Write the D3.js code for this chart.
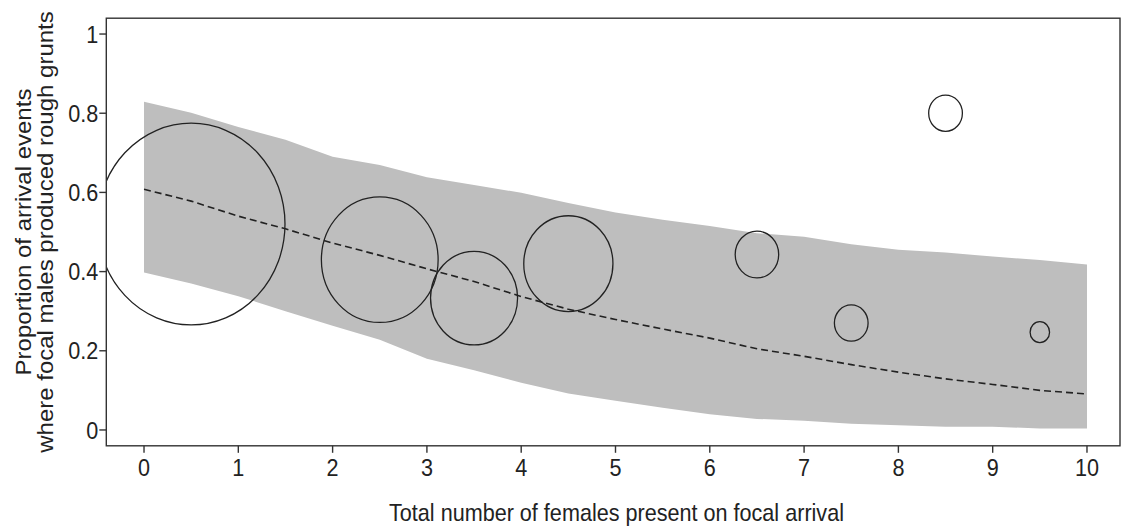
<!DOCTYPE html>
<html>
<head>
<meta charset="utf-8">
<script src="https://cdn.jsdelivr.net/npm/d3@7"></script>
<style>
  html, body { margin: 0; padding: 0; background: #fff; }
  svg { display: block; }
  text { font-family: "Liberation Sans", Arial, sans-serif; fill: #222; }
</style>
</head>
<body>
<svg id="chart" width="1124" height="527"></svg>
<script>
// Observed proportions, by number of females present (bubble area ~ number of events)
const obsX     = [0.5, 2.5, 3.5, 4.5, 6.5, 7.5, 8.5, 9.5];
const obsProp  = [0.52, 0.43, 0.333, 0.42, 0.443, 0.27, 0.80, 0.247];
const obsCount = [93, 36, 20, 21, 5, 3, 3, 1];

// Model prediction with confidence band
const fitX     = [0, 0.5, 1, 1.5, 2, 2.5, 3, 3.5, 4, 4.5, 5, 5.5, 6, 6.5, 7, 7.5, 8, 8.5, 9, 9.5, 10];
const fitMean  = [0.608, 0.578, 0.540, 0.508, 0.472, 0.441, 0.407, 0.375, 0.337, 0.305, 0.279,
                  0.255, 0.232, 0.205, 0.186, 0.165, 0.146, 0.129, 0.115, 0.100, 0.091];
const fitUpper = [0.829, 0.801, 0.765, 0.733, 0.690, 0.669, 0.638, 0.619, 0.599, 0.573, 0.549,
                  0.531, 0.515, 0.497, 0.488, 0.469, 0.455, 0.448, 0.438, 0.429, 0.418];
const fitLower = [0.398, 0.370, 0.338, 0.300, 0.263, 0.228, 0.180, 0.151, 0.119, 0.092, 0.074,
                  0.056, 0.040, 0.028, 0.023, 0.016, 0.012, 0.008, 0.008, 0.004, 0.004];

const xTicks = [0, 1, 2, 3, 4, 5, 6, 7, 8, 9, 10];
const yTicks = [0, 0.2, 0.4, 0.6, 0.8, 1];
const yTickLabels = ["0", "0.2", "0.4", "0.6", "0.8", "1"];

const xTitle = "Total number of females present on focal arrival";
const yTitle = ["Proportion of arrival events", "where focal males produced rough grunts"];

const svg = d3.select("#chart");
const W = 1124, H = 527;
const squeeze = 0.9;      // narrow rendering of the text
const aspect = 1.075;     // vertical / horizontal radius of the bubbles

const x = d3.scaleLinear().domain([-0.4, 10.4]).range([106.3, 1124.7]);
const y = d3.scaleLinear().domain([-0.04, 1.04]).range([445.8, 18.2]);
const r = d3.scaleSqrt().domain([0, 93]).range([0, 0.995]);

const pLeft = x(-0.4), pRight = W - 4, pTop = y(1.04), pBottom = y(-0.04);

svg.append("defs").append("clipPath").attr("id", "plotClip")
  .append("rect").attr("x", pLeft).attr("y", pTop)
  .attr("width", pRight - pLeft).attr("height", pBottom - pTop);

const plot = svg.append("g").attr("clip-path", "url(#plotClip)");

// Confidence band
const band = fitX.map((v, i) => ({ x: v, lo: fitLower[i], hi: fitUpper[i] }));
plot.append("path")
  .datum(band)
  .attr("d", d3.area().x(d => x(d.x)).y0(d => y(d.lo)).y1(d => y(d.hi)))
  .attr("fill", "#bebebe");

// Fitted mean
const mean = fitX.map((v, i) => ({ x: v, y: fitMean[i] }));
plot.append("path")
  .datum(mean)
  .attr("d", d3.line().x(d => x(d.x)).y(d => y(d.y)))
  .attr("fill", "none")
  .attr("stroke", "#222")
  .attr("stroke-width", 1.6)
  .attr("stroke-dasharray", "7,4");

// Observed bubbles
const obs = obsX.map((v, i) => ({ x: v, p: obsProp[i], n: obsCount[i] }));
plot.selectAll("ellipse.obs")
  .data(obs)
  .enter().append("ellipse")
  .attr("class", "obs")
  .attr("cx", d => x(d.x))
  .attr("cy", d => y(d.p))
  .attr("rx", d => x(r(d.n)) - x(0))
  .attr("ry", d => (x(r(d.n)) - x(0)) * aspect)
  .attr("fill", "none")
  .attr("stroke", "#222")
  .attr("stroke-width", 1.3);

// Frame
svg.append("rect")
  .attr("x", pLeft).attr("y", pTop)
  .attr("width", pRight - pLeft).attr("height", pBottom - pTop)
  .attr("fill", "none").attr("stroke", "#333").attr("stroke-width", 1.4);

// X axis ticks and labels
const xg = svg.append("g");
xg.selectAll("line").data(xTicks).enter().append("line")
  .attr("x1", d => x(d)).attr("x2", d => x(d))
  .attr("y1", pBottom).attr("y2", pBottom + 7)
  .attr("stroke", "#333").attr("stroke-width", 1.4);
xg.selectAll("text").data(xTicks).enter().append("text")
  .attr("transform", d => `translate(${x(d)},${pBottom + 30}) scale(${squeeze},1)`)
  .attr("text-anchor", "middle")
  .attr("font-size", 24)
  .text(d => d);

// Y axis ticks and labels
const yg = svg.append("g");
yg.selectAll("line").data(yTicks).enter().append("line")
  .attr("x1", pLeft - 7).attr("x2", pLeft)
  .attr("y1", d => y(d)).attr("y2", d => y(d))
  .attr("stroke", "#333").attr("stroke-width", 1.4);
yg.selectAll("text").data(yTicks).enter().append("text")
  .attr("transform", d => `translate(${pLeft - 8},${y(d) + 8.6}) scale(${squeeze},1)`)
  .attr("text-anchor", "end")
  .attr("font-size", 24)
  .text((d, i) => yTickLabels[i]);

// Axis titles
svg.append("text")
  .attr("transform", `translate(${(pLeft + 1124.7) / 2 + 1},${H - 6}) scale(${squeeze},1)`)
  .attr("text-anchor", "middle")
  .attr("font-size", 24)
  .text(xTitle);

yTitle.forEach((t, i) => {
  svg.append("text")
    .attr("transform", `translate(${31 + i * 22},${(pTop + pBottom) / 2}) scale(${squeeze},1) rotate(-90)`)
    .attr("text-anchor", "middle")
    .attr("font-size", 24)
    .text(t);
});
</script>
</body>
</html>
